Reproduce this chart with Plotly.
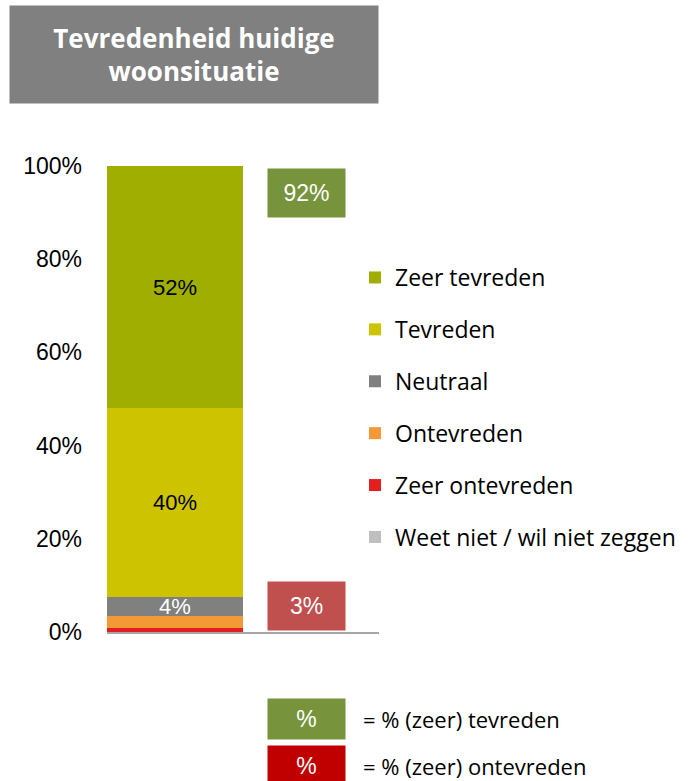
import plotly.graph_objects as go

# data
categories = ["Weet niet / wil niet zeggen", "Zeer ontevreden", "Ontevreden",
              "Neutraal", "Tevreden", "Zeer tevreden"]
values = [0, 0.9, 2.5, 4.1, 40.5, 51.9]
colors = ["#BFBFBF", "#E31E1E", "#F39A37", "#808080", "#CDC300", "#9FAE00"]
label_colors = ["black", "white", "black", "white", "black", "black"]
pct_tevreden = 92
pct_ontevreden = 3
y_ticks = [0, 20, 40, 60, 80, 100]

W, H = 689, 781
L, R, T, B = 107, 310, 166, 149
pw, ph = W - L - R, H - T - B


def px_x(x):
    return (x - L) / pw


def px_y(y):
    return (H - B - y) / ph


fig = go.Figure()
n = len(categories)
for i, (cat, val, col) in enumerate(zip(categories, values, colors)):
    fig.add_trace(go.Bar(
        x=[0.5], y=[val], width=1, name=cat,
        marker=dict(color=col, line=dict(width=0)),
        legendgroup=cat, legendrank=100 * (n - i),
        text=[f"{round(val)}%" if val >= 4 else ""],
        textposition="inside", insidetextanchor="middle",
        constraintext="none",
        textfont=dict(family="Liberation Sans, Arial", size=22, color=label_colors[i]),
        hoverinfo="name+y",
    ))

fig.update_layout(
    width=W, height=H,
    barmode="stack",
    margin=dict(l=L, r=R, t=T, b=B, autoexpand=False),
    plot_bgcolor="white", paper_bgcolor="white",
    showlegend=True,
    legend=dict(
        x=px_x(355), y=px_y(256), xanchor="left", yanchor="top",
        traceorder="grouped", tracegroupgap=19,
        font=dict(family="Open Sans", size=23, color="black"),
        itemwidth=30, bgcolor="rgba(0,0,0,0)",
    ),
    xaxis=dict(range=[0, 2], showticklabels=False, ticks="", showgrid=False,
               zeroline=False, showline=True, linecolor="#A6A6A6", linewidth=2,
               fixedrange=True),
    yaxis=dict(range=[0, 100], tickvals=y_ticks,
               ticktext=[f"{v}%" for v in y_ticks], showgrid=False,
               zeroline=False, showline=False, ticks="", ticklen=0,
               ticklabelstandoff=24,
               tickfont=dict(family="Liberation Sans, Arial", size=23, color="black"),
               fixedrange=True),
)

box_font = dict(family="Liberation Sans, Arial", size=23, color="white")
# title box
fig.add_annotation(
    xref="paper", yref="paper", x=px_x(194), y=px_y(54.5),
    xanchor="center", yanchor="middle",
    text="<b>Tevredenheid huidige<br>woonsituatie</b>",
    showarrow=False, width=368, height=97, bgcolor="#808080", borderpad=0,
    font=dict(family="Open Sans", size=26, color="white"),
)
# summary boxes
fig.add_annotation(
    xref="paper", yref="paper", x=px_x(306.5), y=px_y(192.5),
    xanchor="center", yanchor="middle",
    text=f"{pct_tevreden}%", showarrow=False, width=77, height=48,
    bgcolor="#77933C", borderpad=0, font=box_font,
)
fig.add_annotation(
    xref="paper", yref="paper", x=px_x(306.5), y=px_y(606),
    xanchor="center", yanchor="middle",
    text=f"{pct_ontevreden}%", showarrow=False, width=77, height=48,
    bgcolor="#C0504D", borderpad=0, font=box_font,
)
# bottom key
for cy, bg, txt in [(719, "#77933C", "= % (zeer) tevreden"),
                    (766, "#C00000", "= % (zeer) ontevreden")]:
    fig.add_annotation(
        xref="paper", yref="paper", x=px_x(306.5), y=px_y(cy),
        xanchor="center", yanchor="middle",
        text="%", showarrow=False, width=77, height=40,
        bgcolor=bg, borderpad=0, font=box_font,
    )
    fig.add_annotation(
        xref="paper", yref="paper", x=px_x(361), y=px_y(cy),
        xanchor="left", yanchor="middle", text=txt, showarrow=False,
        font=dict(family="Open Sans", size=22, color="black"),
    )

fig.write_html("out.html", config={"displayModeBar": False},
               post_script="document.body.style.margin='0';")
